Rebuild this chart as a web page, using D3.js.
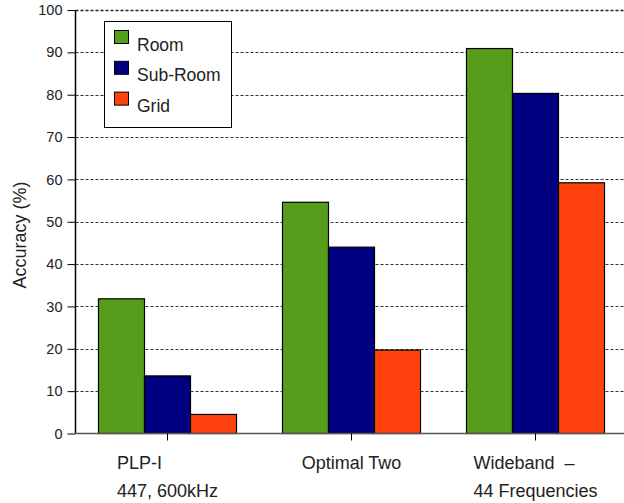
<!DOCTYPE html>
<html>
<head>
<meta charset="utf-8">
<script src="https://cdn.jsdelivr.net/npm/d3@7"></script>
<style>
  html, body { margin: 0; padding: 0; background: #fff; }
  svg { display: block; font-family: "Liberation Sans", Arial, Helvetica, sans-serif; }
</style>
</head>
<body>
<svg id="chart" width="624" height="503"></svg>
<script>
// ---- data ----
const categories = ["PLP-I", "Optimal Two", "Wideband"];
const categoryLabels = [["PLP-I", "447, 600kHz"], ["Optimal Two"], ["Wideband\u00a0\u00a0\u2013", "44 Frequencies"]];
const seriesNames = ["Room", "Sub-Room", "Grid"];
const roomValues = [31.8, 54.6, 90.9];
const subRoomValues = [13.6, 44.0, 80.3];
const gridValues = [4.5, 19.7, 59.2];
const yTicks = [0, 10, 20, 30, 40, 50, 60, 70, 80, 90, 100];
const seriesColors = ["#579d1c", "#000080", "#ff420e"];

const seriesValues = [roomValues, subRoomValues, gridValues];

const svg = d3.select("#chart");
const mLeft = 75.5, mRight = 627.5, mTop = 10, mBottom = 433.5;

const x = d3.scaleBand().domain(categories).range([mLeft, mRight])
  .paddingInner(0.25).paddingOuter(0.125);
const xs = d3.scaleBand().domain(seriesNames).range([0, x.bandwidth()]).padding(0);
const y = d3.scaleLinear().domain([0, 100]).range([mBottom, mTop]);
const color = d3.scaleOrdinal().domain(seriesNames).range(seriesColors);

// gridlines
svg.append("g").selectAll("line").data(yTicks.filter(d => d > 0)).join("line")
  .attr("x1", mLeft).attr("x2", 624)
  .attr("y1", d => Math.round(y(d)) + 0.5).attr("y2", d => Math.round(y(d)) + 0.5)
  .attr("stroke", d => d === 100 ? "#222" : "#333")
  .attr("stroke-width", d => d === 100 ? 1.5 : 1)
  .attr("stroke-dasharray", "3,2");

// bars
const rows = [];
categories.forEach((c, i) => seriesNames.forEach((s, j) => rows.push({ c, s, v: seriesValues[j][i] })));
svg.append("g").selectAll("rect").data(rows).join("rect")
  .attr("x", d => x(d.c) + xs(d.s))
  .attr("y", d => y(d.v))
  .attr("width", xs.bandwidth())
  .attr("height", d => y(0) - y(d.v))
  .attr("fill", d => color(d.s))
  .attr("stroke", "#000").attr("stroke-width", 1.2);

// y axis
const yAxis = d3.axisLeft(y).tickValues(yTicks).tickSize(8).tickPadding(5).tickFormat(d3.format("d"));
const gy = svg.append("g").attr("transform", `translate(${mLeft},0)`).call(yAxis);
gy.select(".domain").attr("stroke", "#000").attr("stroke-width", 1.5).attr("d", `M0,${mTop}V${mBottom}`);
gy.selectAll(".tick line").attr("stroke", "#000");
gy.selectAll(".tick text").attr("fill", "#222").style("font-size", "14.5px")
  .style("font-family", "'Liberation Sans', Arial, sans-serif");

// x axis
const xAxis = d3.axisBottom(x).tickSize(7).tickFormat("");
const gx = svg.append("g").attr("transform", `translate(0,${mBottom})`).call(xAxis);
gx.select(".domain").attr("stroke", "#555").attr("stroke-width", 1.5).attr("d", `M${mLeft},0H624`);
gx.selectAll(".tick line").attr("stroke", "#000");

// x labels (left-aligned block centred on group)
categories.forEach((c, i) => {
  const lines = categoryLabels[i];
  const g = svg.append("g");
  const texts = lines.map((t, k) => g.append("text")
    .attr("y", 469 + k * 27.5)
    .attr("fill", "#222").style("font-size", "18px").text(t));
  const maxW = d3.max(texts, t => t.node().getComputedTextLength());
  const cx = x(c) + x.bandwidth() / 2;
  texts.forEach(t => t.attr("x", cx - maxW / 2));
});

// y label
svg.append("text")
  .attr("transform", "translate(26,235) rotate(-90)")
  .attr("text-anchor", "middle")
  .attr("fill", "#222").style("font-size", "18px")
  .text("Accuracy (%)");

// legend
const lg = svg.append("g");
lg.append("rect").attr("x", 104.5).attr("y", 21.5).attr("width", 127).attr("height", 106)
  .attr("fill", "#fff").attr("stroke", "#000").attr("stroke-width", 1);
const items = lg.selectAll("g.item").data(seriesNames).join("g")
  .attr("transform", (d, i) => `translate(0,${i * 30.8})`);
items.append("rect").attr("x", 114.5).attr("y", 30.5).attr("width", 14).attr("height", 13)
  .attr("fill", d => color(d)).attr("stroke", "#000").attr("stroke-width", 1);
items.append("text").attr("x", 137).attr("y", 50.5).attr("fill", "#222")
  .style("font-size", "17.5px").text(d => d);
</script>
</body>
</html>
